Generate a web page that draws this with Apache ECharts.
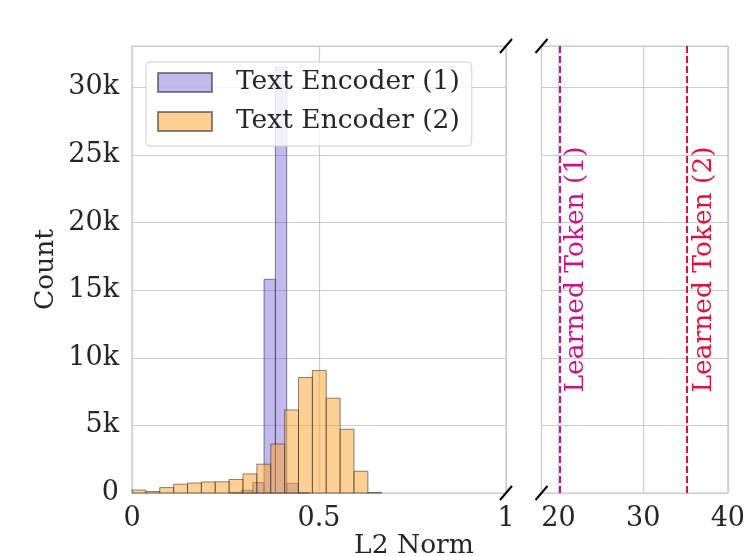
<!DOCTYPE html>
<html>
<head>
<meta charset="utf-8">
<script src="https://cdn.jsdelivr.net/npm/echarts@6/dist/echarts.min.js"></script>
<style>
html,body{margin:0;padding:0;background:#fff;}
#wrap{position:relative;width:748px;height:556px;}
#c,#lg{position:absolute;left:0;top:0;width:748px;height:556px;}
#c{z-index:0;}
#lg{z-index:1;pointer-events:none;}
</style>
</head>
<body>
<div id="wrap"><div id="c"></div><div id="lg"></div></div>
<script>
// ---- data ----
const seriesNames = ['Text Encoder (1)', 'Text Encoder (2)'];
// histogram bin edges (n+1) and counts (n)
const enc1Edges = [0.2622, 0.2925, 0.3228, 0.3531, 0.3834, 0.4137, 0.4440, 0.4743];
const enc1Counts = [40, 200, 770, 15800, 31480, 720, 30];
const enc2Edges = [0, 0.0371, 0.0742, 0.1113, 0.1484, 0.1855, 0.2226, 0.2597, 0.2968, 0.3339,
                   0.3710, 0.4081, 0.4452, 0.4823, 0.5194, 0.5565, 0.5936, 0.6307, 0.6678];
const enc2Counts = [220, 110, 400, 650, 740, 820, 830, 1000, 1410, 2130,
                    3620, 6140, 8540, 9060, 7010, 4710, 1610, 40];
const tokenNames = ['Learned Token (1)', 'Learned Token (2)'];
const tokenValues = [20.1, 35.2];
const leftTicks = [0, 0.5, 1];
const rightTicks = [20, 30, 40];
const yTickStep = 5000;
const yMax = 33050;

// ---- styles ----
const FONT = 'DejaVu Serif';
const TXT = '#262626';
const GRIDC = '#cccccc';
const fills = ['rgba(110,90,210,0.42)', 'rgba(255,160,40,0.5)'];
const edgeC = 'rgba(40,40,40,0.55)';
const tokenColors = ['#C71585', '#DC143C'];

const L = {x: 132, y: 46, w: 374, h: 447};
const R = {x: 541.5, y: 46, w: 186.5, h: 447};
const LEG = {x: 146, y: 62};

function toBins(edges, counts) {
  return counts.map((c, i) => [edges[i], edges[i + 1], c]);
}
function renderItem(params, api) {
  const p0 = api.coord([api.value(0), 0]);
  const p1 = api.coord([api.value(1), api.value(2)]);
  return {
    type: 'rect',
    shape: {x: p0[0], y: p1[1], width: p1[0] - p0[0], height: p0[1] - p1[1]},
    style: {fill: fills[params.seriesIndex], stroke: edgeC, lineWidth: 1}
  };
}

const chart = echarts.init(document.getElementById('c'), null, {renderer: 'canvas'});

const yLabel = {
  fontFamily: FONT, fontSize: 27, color: TXT, margin: 13, showMaxLabel: false,
  formatter: v => v === 0 ? '0' : (v / 1000) + 'k'
};

const option = {
  backgroundColor: '#ffffff',
  animation: false,
  textStyle: {fontFamily: FONT},
  grid: [
    {left: L.x, top: L.y, width: L.w, height: L.h, show: true, borderColor: GRIDC, borderWidth: 1.2, backgroundColor: 'transparent'},
    {left: R.x, top: R.y, width: R.w, height: R.h, show: true, borderColor: GRIDC, borderWidth: 1.2, backgroundColor: 'transparent'}
  ],
  xAxis: [
    {type: 'value', gridIndex: 0, min: leftTicks[0], max: leftTicks[leftTicks.length - 1], interval: 0.5,
     axisLine: {show: false}, axisTick: {show: false},
     splitLine: {show: true, lineStyle: {color: GRIDC, width: 1.2}},
     axisLabel: {fontFamily: FONT, fontSize: 27, color: TXT, margin: 12, showMinLabel: true, showMaxLabel: true,
                 formatter: v => String(v)}},
    {type: 'value', gridIndex: 1, min: 18, max: 40,
     axisLine: {show: false}, axisTick: {show: false}, splitLine: {show: false},
     axisLabel: {fontFamily: FONT, fontSize: 27, color: TXT, margin: 12, customValues: rightTicks,
                 showMinLabel: true, showMaxLabel: true}}
  ],
  yAxis: [
    {type: 'value', gridIndex: 0, min: 0, max: yMax, interval: yTickStep,
     axisLine: {show: false}, axisTick: {show: false},
     splitLine: {show: true, lineStyle: {color: GRIDC, width: 1.2}},
     axisLabel: yLabel,
     name: 'Count', nameLocation: 'middle', nameGap: 72,
     nameTextStyle: {fontFamily: FONT, fontSize: 26.5, color: TXT}},
    {type: 'value', gridIndex: 1, min: 0, max: yMax, interval: yTickStep,
     axisLine: {show: false}, axisTick: {show: false},
     splitLine: {show: true, lineStyle: {color: GRIDC, width: 1.2}},
     axisLabel: {show: false}}
  ],
  series: [
    {name: seriesNames[0], type: 'custom', xAxisIndex: 0, yAxisIndex: 0, renderItem: renderItem,
     itemStyle: {color: fills[0], borderColor: edgeC, borderWidth: 1},
     encode: {x: [0, 1], y: 2}, data: toBins(enc1Edges, enc1Counts)},
    {name: seriesNames[1], type: 'custom', xAxisIndex: 0, yAxisIndex: 0, renderItem: renderItem,
     itemStyle: {color: fills[1], borderColor: edgeC, borderWidth: 1},
     encode: {x: [0, 1], y: 2}, data: toBins(enc2Edges, enc2Counts)},
    {name: 'tokens', type: 'line', xAxisIndex: 1, yAxisIndex: 1, data: [], silent: true,
     markLine: {
       symbol: 'none', silent: true, animation: false,
       data: [
         ...rightTicks.map(v => ({xAxis: v, lineStyle: {color: GRIDC, width: 1.2, type: 'solid'}, label: {show: false}})),
         ...tokenValues.map((v, i) => ({xAxis: v, lineStyle: {color: tokenColors[i], width: 2, type: [7, 3]}, label: {show: false}}))
       ]
     }}
  ]
};
chart.setOption(option);

// text annotations and axis-break marks
const graphics = [];
tokenValues.forEach((v, i) => {
  const p = chart.convertToPixel({xAxisIndex: 1, yAxisIndex: 1}, [v, yMax / 2]);
  graphics.push({type: 'text', x: p[0] + 17, y: R.y + R.h / 2, rotation: Math.PI / 2, z: 10,
    style: {text: tokenNames[i], fill: tokenColors[i], font: '26.5px "' + FONT + '"', align: 'center', verticalAlign: 'middle'}});
});
graphics.push({type: 'text', x: 414, y: 546, z: 10,
  style: {text: 'L2 Norm', fill: TXT, font: '26.5px "' + FONT + '"', align: 'center', verticalAlign: 'middle'}});
[[L.x + L.w, L.y], [L.x + L.w, L.y + L.h], [R.x, R.y], [R.x, R.y + L.h]].forEach(c => {
  graphics.push({type: 'line', z: 10, shape: {x1: c[0] - 6, y1: c[1] + 7, x2: c[0] + 6, y2: c[1] - 7},
    style: {stroke: '#000', lineWidth: 2}});
});
chart.setOption({graphic: graphics});

// legend drawn on an overlay instance (own stacking context) so its translucent box sits above the bars
const lg = echarts.init(document.getElementById('lg'), null, {renderer: 'canvas'});
lg.setOption({
  backgroundColor: 'transparent',
  animation: false,
  legend: {
    orient: 'vertical', left: LEG.x, top: LEG.y,
    data: seriesNames.map(n => ({name: n, icon: 'rect'})),
    itemWidth: 54, itemHeight: 19, itemGap: 8,
    padding: [5, 12, 9, 11],
    backgroundColor: 'rgba(255,255,255,0.8)', borderColor: '#d0d0d0', borderWidth: 1, borderRadius: 4,
    textStyle: {fontFamily: FONT, fontSize: 26.5, color: TXT, padding: [0, 0, 0, 19], lineHeight: 31},
    selectedMode: false
  },
  series: seriesNames.map((n, i) => ({
    name: n, type: 'custom', coordinateSystem: 'none', data: [], renderItem: () => null,
    itemStyle: {color: fills[i], borderColor: edgeC, borderWidth: 1}
  }))
});
</script>
</body>
</html>
